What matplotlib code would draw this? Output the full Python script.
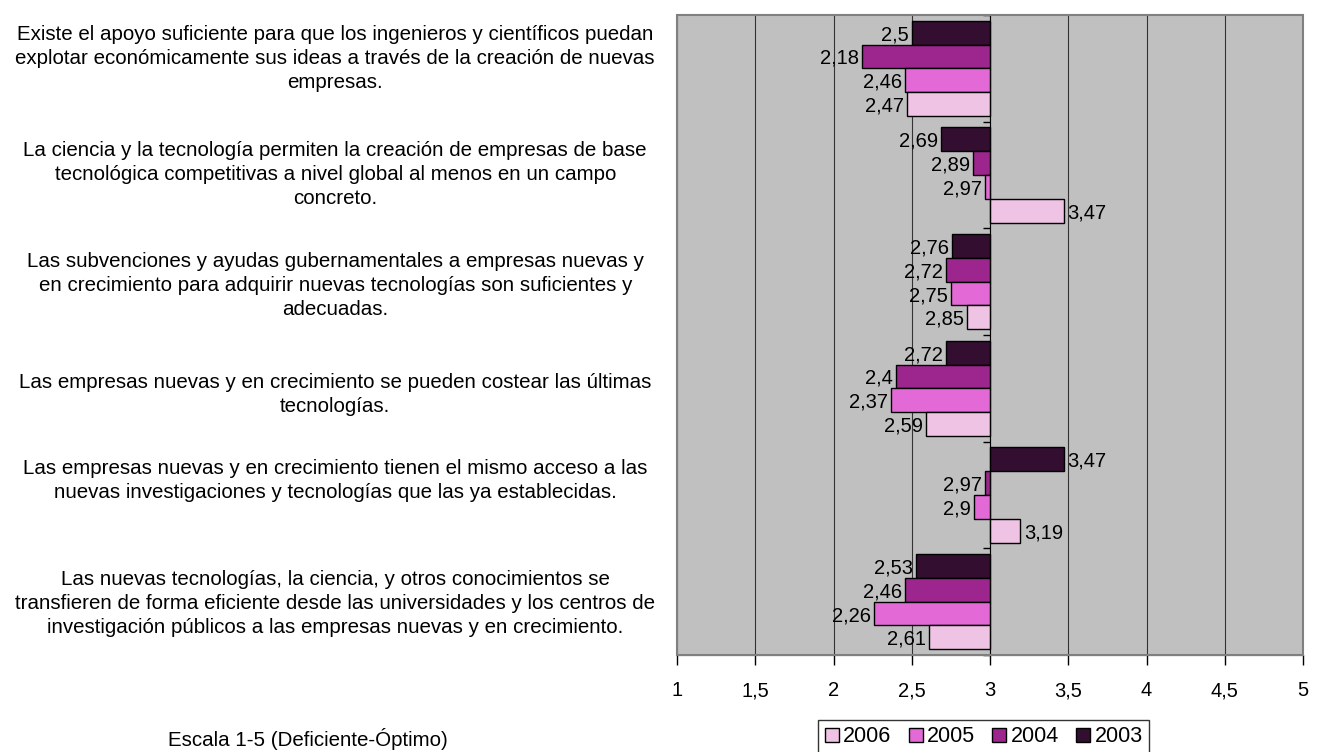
import numpy as np
import matplotlib.pyplot as plt
from matplotlib.patches import Rectangle
from matplotlib.transforms import blended_transform_factory, offset_copy

plt.rcParams['font.family'] = ['Liberation Sans', 'DejaVu Sans']

categories = [
    "Existe el apoyo suficiente para que los ingenieros y científicos puedan\n"
    "explotar económicamente sus ideas a través de la creación de nuevas\nempresas.",
    "La ciencia y la tecnología permiten la creación de empresas de base\n"
    "tecnológica competitivas a nivel global al menos en un campo\nconcreto.",
    "Las subvenciones y ayudas gubernamentales a empresas nuevas y\n"
    "en crecimiento para adquirir nuevas tecnologías son suficientes y\nadecuadas.",
    "Las empresas nuevas y en crecimiento se pueden costear las últimas\ntecnologías.",
    "Las empresas nuevas y en crecimiento tienen el mismo acceso a las\n"
    "nuevas investigaciones y tecnologías que las ya establecidas.",
    "Las nuevas tecnologías, la ciencia, y otros conocimientos se\n"
    "transfieren de forma eficiente desde las universidades y los centros de\n"
    "investigación públicos a las empresas nuevas y en crecimiento.",
]

years = ["2003", "2004", "2005", "2006"]
v2003 = [2.5, 2.69, 2.76, 2.72, 3.47, 2.53]
v2004 = [2.18, 2.89, 2.72, 2.4, 2.97, 2.46]
v2005 = [2.46, 2.97, 2.75, 2.37, 2.9, 2.26]
v2006 = [2.47, 3.47, 2.85, 2.59, 3.19, 2.61]
series = [v2003, v2004, v2005, v2006]
colors = ["#330E31", "#9C268D", "#E36AD6", "#EEC3E3"]

xticks = [1, 1.5, 2, 2.5, 3, 3.5, 4, 4.5, 5]
xticklabels = ["1", "1,5", "2", "2,5", "3", "3,5", "4", "4,5", "5"]
base = 3.0

# small vertical nudges (px, up is positive) for the description blocks
label_shift = [12, 2, -2, -4, 16, 0]

W, H = 1319, 752
fig = plt.figure(figsize=(W / 100, H / 100), dpi=100)
ax = fig.add_axes([677 / W, 1 - 655 / H, 626 / W, 640 / H])
ax.set_facecolor("#C0C0C0")

y = np.arange(len(categories))
h = 0.223
handles = {}
for k, (yr, vals, col) in enumerate(zip(years, series, colors)):
    pos = y + (k - 1.5) * h
    widths = [v - base for v in vals]
    bars = ax.barh(pos, widths, left=base, height=h, color=col,
                   edgecolor="black", linewidth=1.0, zorder=3)
    handles[yr] = bars
    for p, v in zip(pos, vals):
        txt = f"{v:g}".replace(".", ",")
        if v < base:
            tr = offset_copy(ax.transData, fig=fig, x=-3, y=0, units="dots")
            ha = "right"
        else:
            tr = offset_copy(ax.transData, fig=fig, x=4, y=0, units="dots")
            ha = "left"
        ax.text(v, p, txt, ha=ha, va="center_baseline", fontsize=14.5,
                transform=tr, zorder=4)

ax.set_xlim(1, 5)
ax.set_ylim(len(categories) - 0.5, -0.5)
ax.set_xticks(xticks)
ax.set_xticklabels(xticklabels, fontsize=14.5)
ax.tick_params(axis="x", direction="out", length=7, width=1, pad=12)
ax.grid(axis="x", color="#333333", linewidth=0.8, zorder=1)

# vertical category axis crosses at 3
ax.spines["left"].set_position(("data", base))
ax.spines["left"].set_zorder(5)
ax.set_yticks(np.arange(len(categories) + 1) - 0.5)
ax.set_yticklabels([])
ax.tick_params(axis="y", direction="out", length=5, width=1)
for s in ["top", "right"]:
    ax.spines[s].set_visible(False)
ax.spines["bottom"].set_color("black")
ax.add_patch(Rectangle((0, 0), 1, 1, transform=ax.transAxes, fill=False,
                       edgecolor="#808080", linewidth=1.5, zorder=6, clip_on=False))

# category descriptions, one line at a time so spacing stays even
line_step = 24  # px between lines
tr = blended_transform_factory(ax.transAxes, ax.transData)
for i, c in enumerate(categories):
    lines = c.split("\n")
    n = len(lines)
    for j, ln in enumerate(lines):
        dy = ((n - 1) / 2 - j) * line_step + label_shift[i]
        t = offset_copy(tr, fig=fig, x=0, y=dy, units="dots")
        ax.text(-0.546, i, ln, ha="center", va="center_baseline",
                fontsize=14.8, transform=t)

fig.text(168 / W, 1 - 737 / H, "Escala 1-5 (Deficiente-Óptimo)",
         ha="left", va="center_baseline", fontsize=14.8)

order = ["2006", "2005", "2004", "2003"]
leg = fig.legend([handles[o] for o in order], order, loc="center right",
                 bbox_to_anchor=(1149 / W, 1 - 737 / H), ncol=4,
                 fontsize=15.5, frameon=True, fancybox=False, edgecolor="black",
                 handlelength=0.65, handleheight=0.65, handletextpad=0.2,
                 columnspacing=0.8, borderpad=0.3, borderaxespad=0)
leg.get_frame().set_linewidth(1.0)

fig.savefig("out.png", dpi=100)
